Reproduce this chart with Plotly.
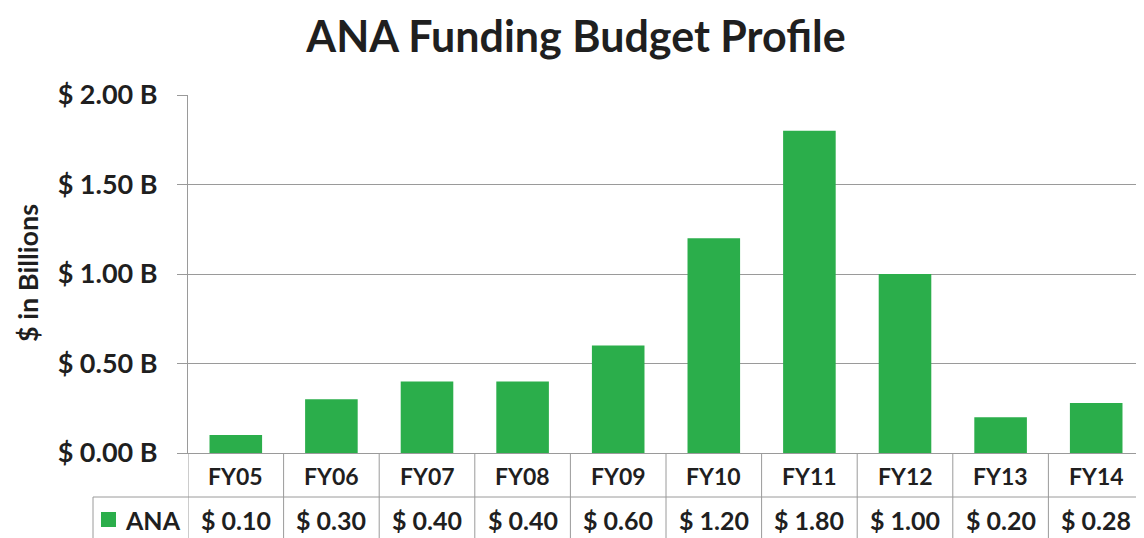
import plotly.graph_objects as go

categories = ["FY05", "FY06", "FY07", "FY08", "FY09", "FY10", "FY11", "FY12", "FY13", "FY14"]
ana_values = [0.10, 0.30, 0.40, 0.40, 0.60, 1.20, 1.80, 1.00, 0.20, 0.28]
series_name = "ANA"
y_ticks = [0.0, 0.5, 1.0, 1.5, 2.0]
y_tick_labels = [f"$ {v:.2f} B" for v in y_ticks]

GREEN = "#2bae4b"
LINE = "#9a9a9a"
TEXT = "#1f1f1f"
FONT = "Lato"

# the page body adds an 8px margin, so the figure is drawn 8px smaller
OFF = 8
W, H = 1144 - OFF, 538 - OFF
L, T, B = 188 - OFF, 95 - OFF, 538 - 453
plot_h = H - T - B
plot_w = W - L


def py(pix):
    # screen pixel row -> paper y
    return (H - B - (pix - OFF)) / plot_h


def px(pix):
    return (pix - OFF - L) / plot_w


def bold(size):
    return dict(family=FONT, size=size, color=TEXT, weight="bold")


fig = go.Figure()
fig.add_trace(go.Bar(x=categories, y=ana_values, name=series_name,
                     marker=dict(color=GREEN, line=dict(width=0)), width=0.55))

row_mid = py(497)
bottom = py(545)
shapes = []
# horizontal separator between the two rows of the data table
shapes.append(dict(type="line", xref="paper", yref="paper", x0=px(93), x1=1,
                   y0=row_mid, y1=row_mid, line=dict(color=LINE, width=1)))
shapes.append(dict(type="line", xref="paper", yref="paper", x0=px(93), x1=px(93),
                   y0=row_mid, y1=bottom, line=dict(color=LINE, width=1)))
for i in range(len(categories) + 1):
    shapes.append(dict(type="line", xref="x", yref="paper", x0=i - 0.5, x1=i - 0.5,
                       y0=0, y1=bottom, line=dict(color=LINE, width=1)))
# legend key
shapes.append(dict(type="rect", xref="paper", yref="paper", x0=px(101), x1=px(116),
                   y0=py(527), y1=py(512), fillcolor=GREEN, line=dict(width=0)))

annotations = []
for cat, v in zip(categories, ana_values):
    annotations.append(dict(x=cat, y=py(476), xref="x", yref="paper", text=cat,
                            xanchor="center", yanchor="middle", showarrow=False, font=bold(23)))
    annotations.append(dict(x=cat, y=py(520), xref="x", yref="paper", text=f"$ {v:.2f}",
                            xanchor="center", yanchor="middle", showarrow=False, font=bold(25)))
annotations.append(dict(x=px(183), y=py(520), xref="paper", yref="paper", text=series_name,
                        xanchor="right", yanchor="middle", showarrow=False, font=bold(25)))
annotations.append(dict(x=px(27), y=py(273), xref="paper", yref="paper", text="$ in Billions",
                        xanchor="center", yanchor="middle", textangle=-90, showarrow=False,
                        font=bold(27)))

fig.update_layout(
    title=dict(text="ANA Funding Budget Profile", x=0.5, xanchor="center", y=1 - 29 / H,
               yanchor="middle", font=bold(43)),
    width=W, height=H,
    margin=dict(l=L, r=0, t=T, b=B),
    plot_bgcolor="white", paper_bgcolor="white",
    showlegend=False,
    font=dict(family=FONT, color=TEXT),
    shapes=shapes,
    annotations=annotations,
)
fig.update_xaxes(showticklabels=False, range=[-0.5, len(categories) - 0.5],
                 showline=True, linecolor=LINE, showgrid=False, ticks="")
fig.update_yaxes(range=[0, 2], tickvals=y_ticks, ticktext=y_tick_labels,
                 showgrid=True, gridcolor=LINE, showline=True, linecolor=LINE,
                 ticks="outside", ticklen=10, tickcolor=LINE, ticklabelstandoff=14,
                 tickfont=bold(27), zeroline=False)
fig.write_html("out.html")
